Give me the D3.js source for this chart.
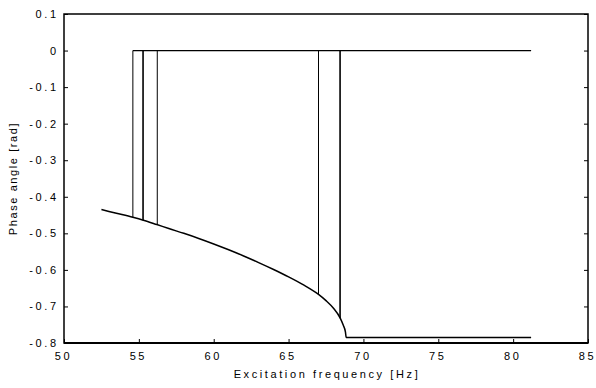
<!DOCTYPE html>
<html>
<head>
<meta charset="utf-8">
<script src="https://cdn.jsdelivr.net/npm/d3@7"></script>
<style>
	body { margin: 0; background: #fff; }
	text { font-family: "Liberation Sans", Arial, sans-serif; fill: #000; }
</style>
</head>
<body>
<div id="chart"></div>
<script>
// Lower branch of the response (curve, then flat part)
const lowerFreq = [52.5, 53.5, 54.6, 55.3, 56.2, 57, 58, 59, 60, 61, 62, 63, 64, 65, 66, 67.0, 67.5, 68.0, 68.45, 68.65, 68.8, 68.85, 81.2];
const lowerPhase = [-0.435, -0.445, -0.456, -0.464, -0.476, -0.487, -0.500, -0.514, -0.529, -0.545, -0.562, -0.580, -0.599, -0.619, -0.641, -0.667, -0.684, -0.705, -0.732, -0.751, -0.770, -0.785, -0.785];

// Upper branch (phase 0)
const upperFreq = [54.6, 81.2];
const upperPhase = [0, 0];

// Jumps between the branches
const jumpFreq = [54.6, 55.28, 56.23, 67.0, 68.44];
const jumpLow = [-0.456, -0.464, -0.477, -0.667, -0.732];
const jumpHigh = [0, 0, 0, 0, 0];

// Tick values
const xTicks = [50, 55, 60, 65, 70, 75, 80, 85];
const yTicks = [-0.8, -0.7, -0.6, -0.5, -0.4, -0.3, -0.2, -0.1, 0, 0.1];

const width = 596, height = 388;
const margin = { top: 14, left: 64, right: 8, bottom: 45 };

const svg = d3.select('#chart').append('svg')
	.attr('width', width)
	.attr('height', height);

const xScale = d3.scaleLinear().domain([50, 85]).range([margin.left, width - margin.right]);
const yScale = d3.scaleLinear().domain([-0.8, 0.1]).range([height - margin.bottom, margin.top]);

const fmt = d => d === 0 ? '0' : d3.format('.1f')(d).replace('\u2212', '-');

// Axes, ticks pointing inward
const xAxis = svg.append('g')
	.attr('transform', `translate(0, ${yScale(-0.8)})`)
	.call(d3.axisBottom(xScale).tickValues(xTicks).tickSizeInner(-4).tickSizeOuter(0).tickPadding(9).tickFormat(d3.format('d')));
const yAxis = svg.append('g')
	.attr('transform', `translate(${xScale(50)}, 0)`)
	.call(d3.axisLeft(yScale).tickValues(yTicks).tickSizeInner(-4).tickSizeOuter(0).tickPadding(8).tickFormat(fmt));
const yAxisRight = svg.append('g')
	.attr('transform', `translate(${xScale(85)}, 0)`)
	.call(d3.axisRight(yScale).tickValues(yTicks).tickSizeInner(-4).tickSizeOuter(0).tickFormat(''));

[xAxis, yAxis, yAxisRight].forEach(g => {
	g.select('.domain').remove();
	g.selectAll('line').attr('stroke', '#000').attr('stroke-width', 1);
	g.selectAll('text')
		.style('font-size', '11px')
		.style('letter-spacing', '2.6px')
		.style('font-family', '"Liberation Sans", Arial, sans-serif');
});
xAxis.selectAll('text').attr('dx', '-1px');
yAxis.selectAll('text').attr('dx', '2.6px');

// Box frame
svg.append('rect')
	.attr('x', xScale(50))
	.attr('y', yScale(0.1))
	.attr('width', xScale(85) - xScale(50))
	.attr('height', yScale(-0.8) - yScale(0.1))
	.attr('fill', 'none')
	.attr('stroke', '#000')
	.attr('stroke-width', 1.5);
svg.append('line')
	.attr('x1', xScale(50)).attr('x2', xScale(85))
	.attr('y1', yScale(-0.8)).attr('y2', yScale(-0.8))
	.attr('stroke', '#000').attr('stroke-width', 2.2);

const line = d3.line().x(d => xScale(d[0])).y(d => yScale(d[1]));

// Jumps
jumpFreq.forEach((f, i) => {
	svg.append('path')
		.datum([[f, jumpLow[i]], [f, jumpHigh[i]]])
		.attr('d', line)
		.attr('fill', 'none')
		.attr('stroke', '#000')
		.attr('stroke-width', i === 1 || i === 4 ? 1.6 : 1);
});

// Upper branch
svg.append('path')
	.datum(d3.zip(upperFreq, upperPhase))
	.attr('d', line)
	.attr('fill', 'none')
	.attr('stroke', '#000')
	.attr('stroke-width', 1.3);

// Lower branch
svg.append('path')
	.datum(d3.zip(lowerFreq, lowerPhase))
	.attr('d', d3.line().x(d => xScale(d[0])).y(d => yScale(d[1])).curve(d3.curveMonotoneX))
	.attr('fill', 'none')
	.attr('stroke', '#000')
	.attr('stroke-width', 1.5);

// Axis titles
svg.append('text')
	.attr('x', (xScale(50) + xScale(85)) / 2 + 1)
	.attr('y', 378)
	.attr('text-anchor', 'middle')
	.style('font-size', '11px')
	.style('letter-spacing', '2.6px')
	.text('Excitation frequency [Hz]');

svg.append('text')
	.attr('transform', `translate(17, ${(yScale(0.1) + yScale(-0.8)) / 2}) rotate(-90)`)
	.attr('text-anchor', 'middle')
	.style('font-size', '11px')
	.style('letter-spacing', '1.6px')
	.text('Phase angle [rad]');
</script>
</body>
</html>
